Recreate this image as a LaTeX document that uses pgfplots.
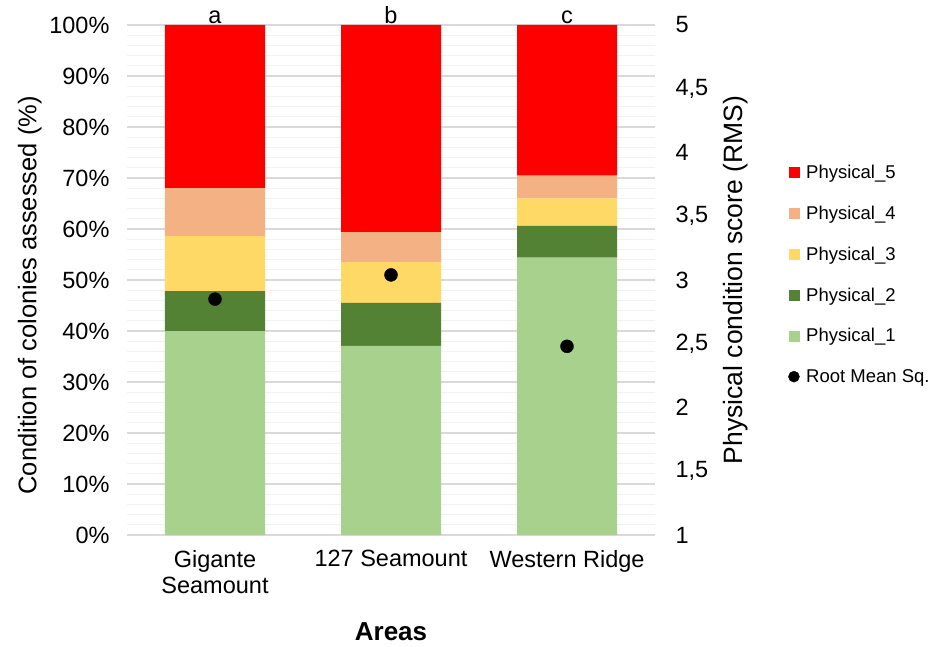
\documentclass[border=0pt]{standalone}
\usepackage{pgfplots}
\pgfplotsset{compat=1.18}
\usepackage{fontspec}
\setmainfont{Liberation Sans}
\definecolor{cP1}{HTML}{A9D18E}
\definecolor{cP2}{HTML}{548235}
\definecolor{cP3}{HTML}{FFD966}
\definecolor{cP4}{HTML}{F4B183}
\definecolor{cP5}{HTML}{FF0000}
\definecolor{gmaj}{HTML}{D9D9D9}
\definecolor{gmin}{HTML}{F2F2F2}
\begin{document}
\begin{tikzpicture}
\begin{axis}[
  scale only axis, width=528pt, height=510pt,
  xmin=-0.5, xmax=2.5, ymin=0, ymax=100,
  ybar stacked, bar width=100pt,
  axis line style={draw=none},
  axis x line*=bottom,
  xtick={0,1,2}, xticklabels={{Gigante\\Seamount},{127 Seamount},{Western Ridge}},
  xticklabel style={align=center, font=\fontsize{23.5}{26}\selectfont, yshift=-12pt},
  major tick length=0pt, minor tick length=0pt,
  ytick={0,10,...,100}, minor ytick={0,2,...,100},
  yticklabel={\pgfmathprintnumber{\tick}\%},
  yticklabel style={font=\fontsize{23.5}{26}\selectfont, xshift=-14pt},
  /pgf/number format/assume math mode=true,
  ymajorgrids, yminorgrids,
  major grid style={gmaj, line width=1.2pt},
  minor grid style={gmin, line width=1.2pt},
  ylabel={Condition of colonies assessed (\%)},
  ylabel style={at={(axis description cs:-0.184,0.47)}, anchor=center, rotate=0, font=\fontsize{25.5}{30}\selectfont},
  xlabel={\textbf{Areas}},
  xlabel style={at={(axis description cs:0.5,-0.206)}, anchor=base, font=\fontsize{26}{30}\selectfont},
  legend style={at={(axis description cs:1.252,0.728)}, anchor=north west, draw=none, fill=none,
    font=\fontsize{18.5}{22}\selectfont, row sep=24pt, inner sep=0pt,
    nodes={inner sep=1pt}},
  legend cell align=left,
  clip=false,
]
\addlegendimage{legend image code/.code={\fill[cP5] (0pt,-5pt) rectangle (10pt,5pt); \path (16pt,0pt);}}
\addlegendentry{Physical\_5}
\addlegendimage{legend image code/.code={\fill[cP4] (0pt,-5pt) rectangle (10pt,5pt); \path (16pt,0pt);}}
\addlegendentry{Physical\_4}
\addlegendimage{legend image code/.code={\fill[cP3] (0pt,-5pt) rectangle (10pt,5pt); \path (16pt,0pt);}}
\addlegendentry{Physical\_3}
\addlegendimage{legend image code/.code={\fill[cP2] (0pt,-5pt) rectangle (10pt,5pt); \path (16pt,0pt);}}
\addlegendentry{Physical\_2}
\addlegendimage{legend image code/.code={\fill[cP1] (0pt,-5pt) rectangle (10pt,5pt); \path (16pt,0pt);}}
\addlegendentry{Physical\_1}
\addlegendimage{legend image code/.code={\fill[black] (5pt,0pt) circle (5.5pt); \path (16pt,0pt);}}
\addlegendentry{Root Mean Sq.}
\addplot[fill=cP1, draw=none, forget plot] coordinates {(0,40.0) (1,37.1) (2,54.4)};
\addplot[fill=cP2, draw=none, forget plot] coordinates {(0,7.8) (1,8.4) (2,6.2)};
\addplot[fill=cP3, draw=none, forget plot] coordinates {(0,10.8) (1,8.0) (2,5.4)};
\addplot[fill=cP4, draw=none, forget plot] coordinates {(0,9.4) (1,5.9) (2,4.45)};
\addplot[fill=cP5, draw=none, forget plot] coordinates {(0,32.0) (1,40.6) (2,29.55)};
\draw[gmaj, line width=1.2pt] (rel axis cs:0,0) -- (rel axis cs:1,0);
\node[anchor=base, font=\fontsize{23.5}{26}\selectfont, inner sep=0pt] at (axis cs:0,100.3) {a};
\node[anchor=base, font=\fontsize{23.5}{26}\selectfont, inner sep=0pt] at (axis cs:1,100.3) {b};
\node[anchor=base, font=\fontsize{23.5}{26}\selectfont, inner sep=0pt] at (axis cs:2,100.3) {c};
\end{axis}
\begin{axis}[
  scale only axis, width=528pt, height=510pt,
  xmin=-0.5, xmax=2.5, ymin=1, ymax=5,
  axis x line=none,
  axis y line*=right,
  y axis line style={draw=none},
  major tick length=0pt, minor tick length=0pt,
  ytick={1,1.5,...,5},
  /pgf/number format/use comma,
  /pgf/number format/assume math mode=true,
  yticklabel style={font=\fontsize{23.5}{26}\selectfont, anchor=west, xshift=17pt},
  ylabel={Physical condition score (RMS)},
  ylabel style={at={(axis description cs:1.152,0.5)}, anchor=center, rotate=0, font=\fontsize{26.5}{30}\selectfont},
  clip=false,
]
\addplot[only marks, mark=*, mark size=6.5pt, black] coordinates {(0,2.85) (1,3.04) (2,2.48)};
\end{axis}
\pgfresetboundingbox
\useasboundingbox (-127pt,-111pt) rectangle (806pt,535pt);
\end{tikzpicture}
\end{document}
